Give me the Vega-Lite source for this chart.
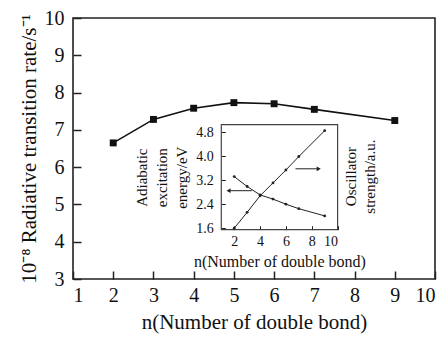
{
  "$schema": "https://vega.github.io/schema/vega-lite/v6.json",
  "width": 362,
  "height": 261,
  "autosize": "none",
  "padding": {"left": 73, "top": 18, "right": 13, "bottom": 59},
  "background": "white",
  "config": {
    "font": "Liberation Serif",
    "view": {"stroke": "#222", "strokeWidth": 1.6},
    "axis": {
      "grid": false,
      "domain": false,
      "labelColor": "#111",
      "titleColor": "#111",
      "tickColor": "#222",
      "titleFontWeight": "normal",
      "labelFont": "Liberation Serif",
      "titleFont": "Liberation Serif",
      "labelOverlap": false,
      "labelBound": false
    }
  },
  "datasets": {
    "rate": [
      {"n": 2, "rate": 6.65},
      {"n": 3, "rate": 7.28},
      {"n": 4, "rate": 7.58},
      {"n": 5, "rate": 7.73},
      {"n": 6, "rate": 7.70},
      {"n": 7, "rate": 7.55},
      {"n": 9, "rate": 7.25}
    ],
    "inset": [
      {"n": 2, "v": 3.32, "series": "energy"},
      {"n": 3, "v": 2.99, "series": "energy"},
      {"n": 4, "v": 2.71, "series": "energy"},
      {"n": 5, "v": 2.57, "series": "energy"},
      {"n": 6, "v": 2.40, "series": "energy"},
      {"n": 7, "v": 2.25, "series": "energy"},
      {"n": 9, "v": 2.01, "series": "energy"},
      {"n": 2, "v": 1.60, "series": "oscillator"},
      {"n": 3, "v": 2.13, "series": "oscillator"},
      {"n": 4, "v": 2.68, "series": "oscillator"},
      {"n": 5, "v": 3.11, "series": "oscillator"},
      {"n": 6, "v": 3.54, "series": "oscillator"},
      {"n": 7, "v": 3.99, "series": "oscillator"},
      {"n": 9, "v": 4.85, "series": "oscillator"}
    ],
    "arrows": [
      {"tail": 3.36, "head": 1.56, "y": 2.85, "dir": "left"},
      {"tail": 6.74, "head": 8.54, "y": 3.58, "dir": "right"}
    ],
    "one": [{"id": 1}]
  },
  "layer": [
    {
      "data": {"name": "rate"},
      "encoding": {
        "x": {
          "field": "n",
          "type": "quantitative",
          "scale": {"domain": [1, 10], "nice": false, "zero": false},
          "axis": {
            "orient": "bottom",
            "values": [1, 2, 3, 4, 5, 6, 7, 8, 9, 10],
            "tickSize": -8,
            "tickWidth": 1.5,
            "labelFontSize": 20,
            "labelPadding": 14,
            "labelOverlap": false,
            "title": "n(Number of double bond)",
            "titleFontSize": 21,
            "titlePadding": 6
          }
        },
        "y": {
          "field": "rate",
          "type": "quantitative",
          "scale": {"domain": [3, 10], "nice": false, "zero": false},
          "axis": {
            "orient": "left",
            "values": [3, 4, 5, 6, 7, 8, 9, 10],
            "tickSize": -8,
            "tickWidth": 1.5,
            "labelFontSize": 20,
            "labelPadding": 17,
            "labelOverlap": false,
            "title": "10⁻⁸ Radiative transition rate/s⁻¹",
            "titleFontSize": 21,
            "titlePadding": 5
          }
        }
      },
      "layer": [
        {"mark": {"type": "line", "color": "#111", "strokeWidth": 1.6}},
        {"mark": {"type": "point", "shape": "square", "filled": true, "size": 48, "color": "#111", "opacity": 1}}
      ]
    },
    {
      "layer": [
        {
          "data": {"name": "inset"},
          "mark": {"type": "line", "color": "#222", "strokeWidth": 1},
          "encoding": {
            "x": {
              "field": "n",
              "type": "quantitative",
              "scale": {"domain": [1, 10], "nice": false, "zero": false, "range": [148.3, 264.6]},
              "axis": {
                "orient": "bottom",
                "offset": -49.3,
                "values": [2, 4, 6, 8, 10],
                "tickSize": -4,
                "labelFontSize": 14,
                "labelPadding": 9,
                "title": "n(Number of double bond)",
                "titleFontSize": 16,
                "titlePadding": 5
              }
            },
            "y": {
              "field": "v",
              "type": "quantitative",
              "scale": {"domain": [1.55, 5.05], "nice": false, "zero": false, "range": [211.7, 106.7]},
              "axis": {
                "orient": "left",
                "offset": -148.3,
                "values": [1.6, 2.4, 3.2, 4.0, 4.8],
                "format": ".1f",
                "tickSize": -4,
                "labelFontSize": 14,
                "labelPadding": 12,
                "title": ["Adiabatic", "excitation", "energy/eV"],
                "titleFontSize": 15,
                "titleLineHeight": 20,
                "titlePadding": 6
              }
            },
            "detail": {"field": "series"}
          }
        },
        {
          "data": {"name": "one"},
          "mark": {"type": "rect", "fill": null, "fillOpacity": 0, "stroke": "#444", "strokeWidth": 1.2},
          "encoding": {
            "x": {"datum": 1, "type": "quantitative"},
            "x2": {"datum": 10},
            "y": {"datum": 1.55, "type": "quantitative"},
            "y2": {"datum": 5.05}
          }
        },
        {
          "data": {"name": "inset"},
          "mark": {"type": "circle", "size": 8, "color": "#222", "opacity": 1},
          "encoding": {
            "x": {"field": "n", "type": "quantitative"},
            "y": {"field": "v", "type": "quantitative"}
          }
        },
        {
          "data": {"name": "arrows"},
          "mark": {"type": "rule", "color": "#222", "strokeWidth": 1},
          "encoding": {
            "x": {"field": "tail", "type": "quantitative"},
            "x2": {"field": "head"},
            "y": {"field": "y", "type": "quantitative"}
          }
        },
        {
          "data": {"name": "arrows"},
          "mark": {"type": "point", "filled": true, "size": 22, "color": "#222", "opacity": 1},
          "encoding": {
            "x": {"field": "head", "type": "quantitative"},
            "y": {"field": "y", "type": "quantitative"},
            "shape": {"field": "dir", "type": "nominal", "legend": null, "scale": {"domain": ["left", "right"], "range": ["triangle-left", "triangle-right"]}}
          }
        },
        {
          "data": {"name": "one"},
          "mark": {"type": "text", "text": ["Oscillator", "strength/a.u."], "angle": 270, "fontSize": 15, "lineHeight": 19, "align": "center", "baseline": "middle", "color": "#111", "font": "Liberation Serif"},
          "encoding": {
            "x": {"datum": 11.0, "type": "quantitative"},
            "y": {"datum": 3.32, "type": "quantitative"}
          }
        }
      ]
    }
  ],
  "resolve": {"scale": {"x": "independent", "y": "independent"}}
}
